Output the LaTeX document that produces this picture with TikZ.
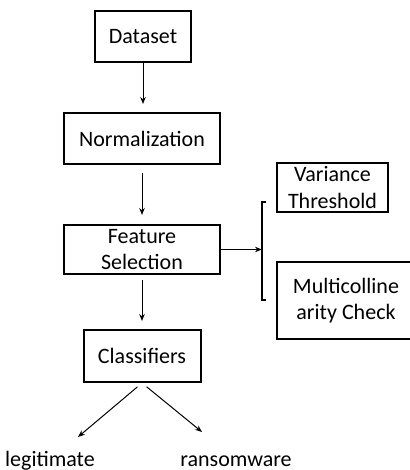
\documentclass[tikz,border=0pt]{standalone}
\usepackage{fontspec}
\setmainfont{Carlito}
\usetikzlibrary{arrows.meta}
\begin{document}
\begin{tikzpicture}[x=1pt,y=-1pt,
  box/.style={draw, line width=2pt, inner sep=0pt, align=center,
    font=\fontsize{22}{26.5}\selectfont},
  arr/.style={-{Stealth[length=7pt,width=5.5pt]}, line width=1pt},
  lbl/.style={font=\fontsize{22}{26}\selectfont, inner sep=0pt, anchor=base}]
\useasboundingbox (0,0) rectangle (409,470);
\node[box, minimum width=96pt, minimum height=51pt] (ds) at (143,37) {Dataset};
\node[box, minimum width=156pt, minimum height=51pt] (nm) at (142,138.5) {Normalization};
\node[box, minimum width=156pt, minimum height=49pt] (fs) at (142,249.5) {Feature\\Selection};
\node[box, minimum width=117pt, minimum height=52pt] (cl) at (142,356) {Classifiers};
\node[box, minimum width=111pt, minimum height=49pt] (vt) at (332.5,187.5) {Variance\\Threshold};
\node[box, minimum width=138pt, minimum height=77pt] (mc) at (346,300.5) {Multicolline\\arity Check};
\node[lbl] (lg) at (50,466) {legitimate};
\node[lbl] (rw) at (236,466) {ransomware};
% bracket
\coordinate (bt) at (262,202);
\coordinate (bb) at (262,300);
\coordinate (br) at (262,249.5);
\draw[line width=2pt] ([xshift=4pt]bt) -- (bt) -- (bb) -- ([xshift=4pt]bb);
% arrows
\draw[arr, shorten >=8pt] (ds.south) -- (ds.south |- nm.north);
\draw[arr, shorten <=8pt, shorten >=9pt] (nm.south) -- (nm.south |- fs.north);
\draw[arr, shorten <=5pt, shorten >=8pt] (fs.south) -- (fs.south |- cl.north);
\draw[arr] (fs.east) -- (fs.east -| br);
\coordinate (le) at (78,437);
\coordinate (re) at (202,432);
\draw[arr, shorten <=6pt] (cl.south) -- (le);
\draw[arr, shorten <=6pt] (cl.south) -- (re);
\end{tikzpicture}
\end{document}
